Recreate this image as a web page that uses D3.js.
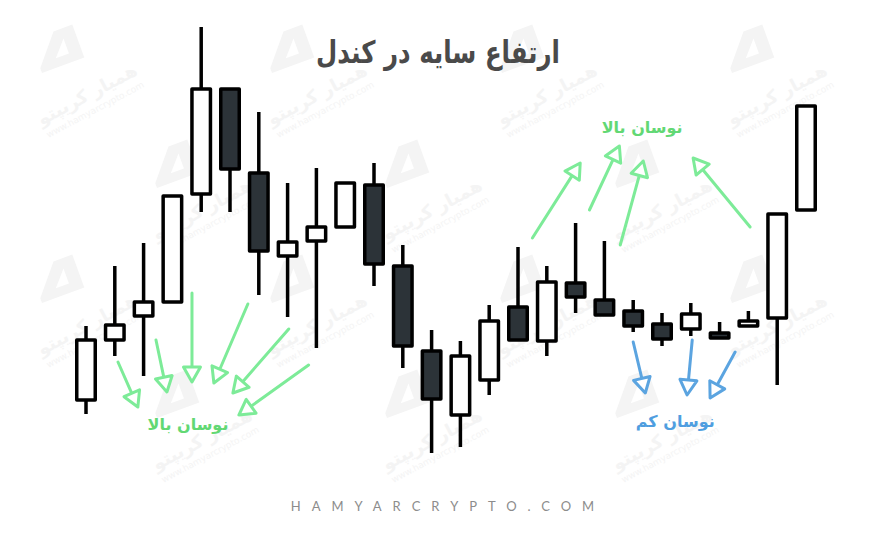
<!DOCTYPE html>
<html><head><meta charset="utf-8">
<script src="https://cdn.jsdelivr.net/npm/d3@7/dist/d3.min.js"></script>
<style>html,body{margin:0;padding:0;background:#fff;}svg{display:block;}</style>
</head><body><div id="chart"></div>
<script>
// ---- data ----
const categories = d3.range(1, 27).map(String);
const opens  = [100,160,184,198,306,411,327,244,259,273,315,234,149, 85,120,193,159,217,200,189,176,171,167,174,182,290];
const highs  = [174,234,257,304,473,411,388,317,332,317,337,255,170,159,195,253,234,277,259,200,187,197,178,189,286,394];
const lows   = [ 86,144,124,198,288,288,205,183,152,273,214,132, 47, 53,105,160,144,187,185,168,154,164,162,174,115,290];
const closes = [160,175,198,304,411,331,249,258,273,317,236,154,101,144,179,160,218,203,185,174,161,186,162,179,286,394];

// annotation arrows: [x0 (candle index), price0, x1 (tip index), price1]
const upArrowsLeft = [[1.11,138,1.80,93],[2.43,160,2.81,108],[3.68,207,3.68,118],[5.62,196,4.44,117],[7.04,171,5.10,107],[7.73,135,5.31,85]];
const upArrowsRight = [[15.50,262,17.16,337],[17.48,290,18.52,354],[18.55,255,19.35,339],[23.06,273,21.08,342]];
const lowArrows = [[19.00,158,19.42,107],[21.05,160,20.87,105],[22.54,148,21.67,102]];
const labels = [
  {text:"نوسان بالا", x:3.54, y:75, color:"#62d874"},
  {text:"نوسان بالا", x:19.31, y:372, color:"#62d874"},
  {text:"نوسان کم", x:20.46, y:78, color:"#4f9ee0"}
];
const titleText = "ارتفاع سایه در کندل";
const footerText = "HAMYARCRYPTO.COM";
const watermarkText = "همیار کریپتو";
const watermarkUrl = "www.hamyarcrypto.com";

// ---- chart ----
const W = 885, H = 544;
const svg = d3.select("#chart").append("svg").attr("width", W).attr("height", H);

// faint watermarks (kept inside the picture)
const wm = svg.append("g").attr("fill", "#f4f4f4").attr("font-family", "DejaVu Sans");
for (let r = 0; r < 4; r++) {
  for (let c = 0; c < 4; c++) {
    const wx = 90 + c * 230 + (r % 2) * 115, wy = 100 + r * 115;
    if (wx > 800) continue;
    const g = wm.append("g").attr("transform", `translate(${wx},${wy}) rotate(-28)`);
    g.append("text").attr("font-size", 18).attr("font-weight", "bold").attr("text-anchor", "middle").text(watermarkText);
    g.append("text").attr("y", 14).attr("font-size", 9).attr("text-anchor", "middle").text(watermarkUrl);
    wm.append("path").attr("transform", `translate(${wx - 60},${wy - 60}) rotate(-20)`)
      .attr("d", "M0,30 L25,0 L45,0 L45,35 L0,35 Z M18,26 L32,10 L32,26 Z").attr("fill-rule", "evenodd");
  }
}

const x = d3.scalePoint().domain(categories).range([86, 806]);
const xi = d3.scaleLinear().domain([0, 25]).range([86, 806]);
const y = d3.scaleLinear().domain([0, 500]).range([500, 0]);

const data = categories.map((c, i) => ({c, o: opens[i], h: highs[i], l: lows[i], cl: closes[i]}));
const bw = 18.5, sw = 3.5;
const candles = svg.append("g").selectAll("g").data(data).join("g");
candles.append("line")
  .attr("x1", d => x(d.c)).attr("x2", d => x(d.c))
  .attr("y1", d => y(d.h)).attr("y2", d => y(d.l))
  .attr("stroke", "#000").attr("stroke-width", sw);
candles.append("rect")
  .attr("x", d => x(d.c) - bw / 2).attr("width", bw)
  .attr("y", d => y(Math.max(d.o, d.cl)))
  .attr("height", d => Math.max(1, Math.abs(y(d.o) - y(d.cl))))
  .attr("fill", d => d.cl >= d.o ? "#ffffff" : "#2c3338")
  .attr("stroke", "#000").attr("stroke-width", sw).attr("stroke-linejoin", "round");

function drawArrows(list, color) {
  const g = svg.append("g");
  list.forEach(a => {
    const x0 = xi(a[0]), y0 = y(a[1]), x1 = xi(a[2]), y1 = y(a[3]);
    const ang = Math.atan2(y1 - y0, x1 - x0);
    const hl = 15;
    g.append("line").attr("x1", x0).attr("y1", y0)
      .attr("x2", x1 - hl * Math.cos(ang)).attr("y2", y1 - hl * Math.sin(ang))
      .attr("stroke", color).attr("stroke-width", 3).attr("stroke-linecap", "round");
    g.append("path").attr("transform", `translate(${x1},${y1}) rotate(${ang * 180 / Math.PI})`)
      .attr("d", `M0,0 L${-hl},${-8.5} L${-hl},${8.5} Z`)
      .attr("fill", "#fff").attr("stroke", color).attr("stroke-width", 3).attr("stroke-linejoin", "round");
  });
}
drawArrows(upArrowsLeft, "#7deb98");
drawArrows(upArrowsRight, "#7deb98");
drawArrows(lowArrows, "#5ba4e0");

svg.append("g").selectAll("text").data(labels).join("text")
  .attr("x", d => xi(d.x)).attr("y", d => y(d.y))
  .attr("text-anchor", "middle").attr("dominant-baseline", "middle")
  .attr("font-family", "DejaVu Sans").attr("font-weight", "bold").attr("font-size", 16)
  .attr("fill", d => d.color).attr("direction", "rtl").text(d => d.text);

svg.append("text").attr("x", 438).attr("y", 63).attr("text-anchor", "middle")
  .attr("font-family", "DejaVu Sans").attr("font-weight", "bold").attr("font-size", 31)
  .attr("textLength", 244).attr("lengthAdjust", "spacingAndGlyphs")
  .attr("fill", "#4a4a4a").attr("direction", "rtl").text(titleText);

svg.append("text").attr("x", 448).attr("y", 511).attr("text-anchor", "middle")
  .attr("font-family", "Lato").attr("font-size", 13).attr("letter-spacing", 11)
  .attr("fill", "#8c8c8c").text(footerText);
</script></body></html>
